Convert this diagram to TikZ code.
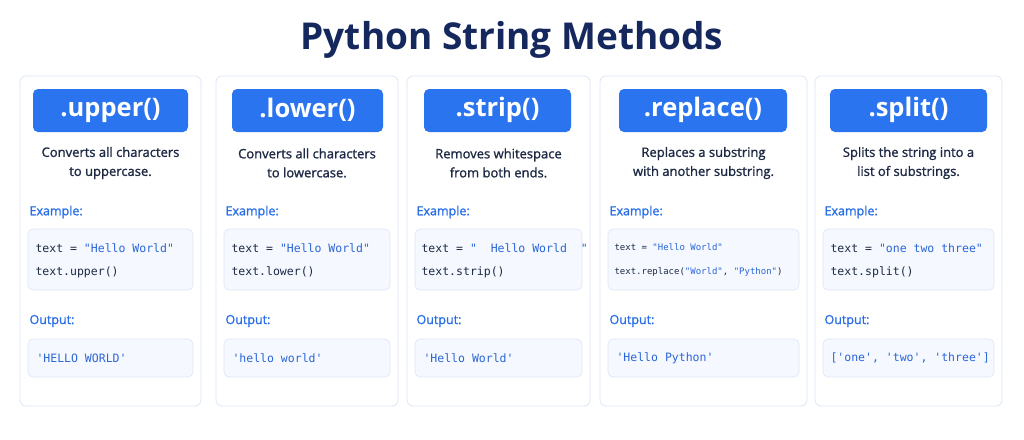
\documentclass[tikz,border=0pt]{standalone}
\usepackage{fontspec}
\setmainfont{Open Sans}
\newfontfamily\descf{Open Sans}[FakeBold=1.3]
\setmonofont{DejaVu Sans Mono}
\begin{document}
\definecolor{navy}{HTML}{14285E}
\definecolor{btn}{HTML}{2B74F0}
\definecolor{lbl}{HTML}{2A6FE8}
\definecolor{strc}{HTML}{2A66D8}
\definecolor{cardb}{HTML}{DCE6F7}
\definecolor{boxf}{HTML}{F5F8FE}
\definecolor{txt}{HTML}{1E2A44}
\begin{tikzpicture}[x=1pt,y=-1pt,
 card/.style={draw=cardb,line width=0.8pt,rounded corners=6pt,fill=white},
 btnn/.style={fill=btn,draw=none,rounded corners=5pt},
 desc/.style={font=\descf\fontsize{13}{19}\selectfont,text=txt,align=center},
 lab/.style={font=\descf\fontsize{12.5}{13}\selectfont,text=lbl,anchor=west},
 box/.style={draw=cardb,fill=boxf,line width=0.6pt,rounded corners=5pt},
 codel/.style={font=\ttfamily\fontsize{11.5}{13}\selectfont,text=txt,anchor=west},
 scode/.style={font=\ttfamily\fontsize{9}{11}\selectfont,text=txt,anchor=west},
 outl/.style={font=\ttfamily\fontsize{11.5}{13}\selectfont,text=strc,anchor=west}]
\useasboundingbox (0,0) rectangle (1024,439);
\fill[white] (0,0) rectangle (1024,439);
\node[font=\bfseries\fontsize{37}{40}\selectfont,text=navy] (title) at (512,40) {Python String Methods};
\newcommand{\mycard}[9]{%
 \draw[card] (#2,76) rectangle (#3,406);
 \draw[btnn] (#4,89) rectangle (#5,132);
 \node[text=white,font=\bfseries\fontsize{25.5}{28}\selectfont] (#1t) at ({(#4+#5)/2},110) {#6};
 \node[desc] (#1d) at ({(#2+#3)/2},163) {#7};
 \node[lab] (#1e) at (#2+6,212) {Example:};
 \draw[box] (#2+8,229) rectangle (#3-8,290);
 \node[lab] (#1o) at (#2+6,321) {Output:};
 \draw[box] (#2+8,339) rectangle (#3-8,377);
 #8
 #9}
\mycard{a}{20}{201}{33}{188}{.upper()}{Converts all characters\\to uppercase.}
 {\node[codel] (a1) at (32,248) {text = \textcolor{strc}{"Hello World"}};
  \node[codel] (a2) at (32,272) {text.upper()};}
 {\node[outl] (a3) at (33,358) {'HELLO WORLD'};}
\mycard{b}{216}{398}{232}{383}{.lower()}{Converts all characters\\to lowercase.}
 {\node[codel] (b1) at (228,248) {text = \textcolor{strc}{"Hello World"}};
  \node[codel] (b2) at (228,272) {text.lower()};}
 {\node[outl] (b3) at (229,358) {'hello world'};}
\mycard{c}{407}{590}{424}{571}{.strip()}{Removes whitespace\\from both ends.}
 {\node[codel] (c1) at (418,248) {text = \textcolor{strc}{"\ \ Hello World\ \ "}};
  \node[codel] (c2) at (418,272) {text.strip()};}
 {\node[outl] (c3) at (420,358) {'Hello World'};}
\mycard{d}{600}{807}{619}{787}{.replace()}{Replaces a substring\\with another substring.}
 {\node[scode] (d1) at (611,247) {text = \textcolor{strc}{"Hello World"}};
  \node[scode] (d2) at (611,272) {text.replace(\textcolor{strc}{"World"}, \textcolor{strc}{"Python"})};}
 {\node[outl] (d3) at (613,358) {'Hello Python'};}
\mycard{e}{815}{1002}{830}{987}{.split()}{Splits the string into a\\list of substrings.}
 {\node[codel] (e1) at (827,248) {text = \textcolor{strc}{"one two three"}};
  \node[codel] (e2) at (827,272) {text.split()};}
 {\node[outl] (e3) at (827,358) {['one', 'two', 'three']};}
\end{tikzpicture}
\end{document}
